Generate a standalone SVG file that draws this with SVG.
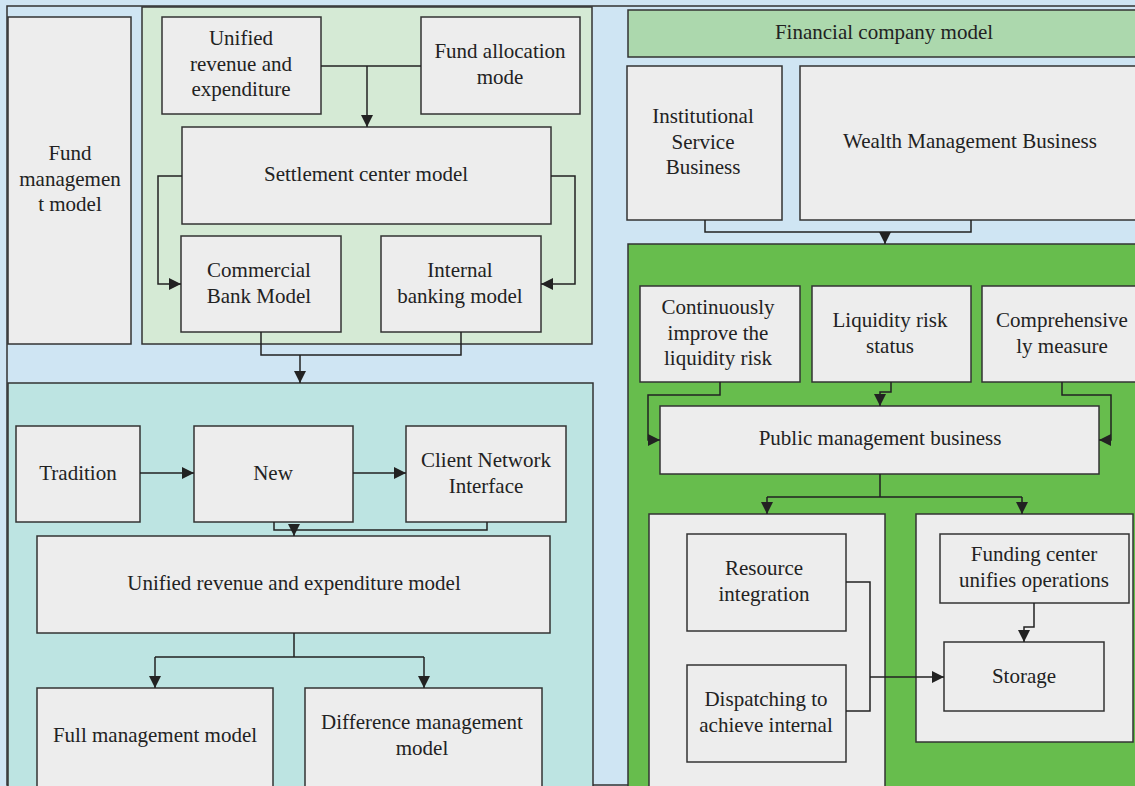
<svg xmlns="http://www.w3.org/2000/svg" width="1135" height="786" viewBox="0 0 1135 786">
<style>
.bx{fill:#ededed;stroke:#333;stroke-width:1.5}
.t{font-family:"Liberation Serif","Times New Roman",serif;font-size:21px;fill:#222;text-anchor:middle}
.c{fill:none;stroke:#222;stroke-width:1.5}
.a{marker-end:url(#ah)}
</style>
<defs>
<marker id="ah" markerUnits="userSpaceOnUse" markerWidth="14" markerHeight="12" refX="12" refY="6" orient="auto">
<path d="M0,0 L12,6 L0,12 Z" fill="#222"/>
</marker>
</defs>
<rect x="0" y="0" width="1135" height="786" fill="#cfe5f3"/>
<rect x="7" y="6" width="1140" height="779" fill="none" stroke="#333" stroke-width="1.5"/>

<g id="panel-settlement"><rect x="142" y="7" width="450" height="337" fill="#d5ead5" stroke="#333" stroke-width="1.5"/></g>
<g id="panel-unified"><rect x="8" y="383" width="585" height="405" fill="#bde4e2" stroke="#333" stroke-width="1.5"/></g>
<g id="panel-public"><rect x="628" y="244" width="510" height="544" fill="#67bd4d" stroke="#333" stroke-width="1.5"/></g>

<g id="fund-management-model"><rect class="bx" x="8" y="17" width="123" height="327"/>
<text class="t" x="70" y="160">Fund<tspan x="70" dy="25.5">managemen</tspan><tspan x="70" dy="25.5">t model</tspan></text></g>

<g id="unified-revenue"><rect class="bx" x="162" y="17" width="159" height="97"/>
<text class="t" x="241" y="45">Unified<tspan x="241" dy="25.5">revenue and</tspan><tspan x="241" dy="25.5">expenditure</tspan></text></g>

<g id="fund-allocation"><rect class="bx" x="421" y="17" width="159" height="97"/>
<text class="t" x="500" y="58">Fund allocation<tspan x="500" dy="25.5">mode</tspan></text></g>

<g id="settlement-center"><rect class="bx" x="182" y="127" width="369" height="97"/>
<text class="t" x="366" y="181">Settlement center model</text></g>

<g id="commercial-bank"><rect class="bx" x="181" y="236" width="160" height="96"/>
<text class="t" x="259" y="277">Commercial<tspan x="259" dy="25.5">Bank Model</tspan></text></g>

<g id="internal-banking"><rect class="bx" x="381" y="236" width="160" height="96"/>
<text class="t" x="460" y="277">Internal<tspan x="460" dy="25.5">banking model</tspan></text></g>

<g id="tradition"><rect class="bx" x="16" y="426" width="124" height="96"/>
<text class="t" x="78" y="480">Tradition</text></g>

<g id="new"><rect class="bx" x="194" y="426" width="159" height="96"/>
<text class="t" x="273" y="480">New</text></g>

<g id="client-network"><rect class="bx" x="406" y="426" width="160" height="96"/>
<text class="t" x="486" y="467">Client Network<tspan x="486" dy="25.5">Interface</tspan></text></g>

<g id="unified-model"><rect class="bx" x="37" y="536" width="513" height="97"/>
<text class="t" x="294" y="590">Unified revenue and expenditure model</text></g>

<g id="full-management"><rect class="bx" x="37" y="688" width="236" height="100"/>
<text class="t" x="155" y="742">Full management model</text></g>

<g id="difference-management"><rect class="bx" x="305" y="688" width="237" height="100"/>
<text class="t" x="422" y="729">Difference management<tspan x="422" dy="25.5">model</tspan></text></g>

<g id="financial-company"><rect x="628" y="10" width="510" height="47" fill="#acd8ad" stroke="#333" stroke-width="1.5"/>
<text class="t" x="884" y="39">Financial company model</text></g>

<g id="institutional"><rect class="bx" x="627" y="66" width="155" height="154"/>
<text class="t" x="703" y="123">Institutional<tspan x="703" dy="25.5">Service</tspan><tspan x="703" dy="25.5">Business</tspan></text></g>

<g id="wealth"><rect class="bx" x="800" y="66" width="340" height="154"/>
<text class="t" x="970" y="148">Wealth Management Business</text></g>

<g id="continuously"><rect class="bx" x="640" y="286" width="160" height="96"/>
<text class="t" x="718" y="314">Continuously<tspan x="718" dy="25.5">improve the</tspan><tspan x="718" dy="25.5">liquidity risk</tspan></text></g>

<g id="liquidity"><rect class="bx" x="812" y="286" width="159" height="96"/>
<text class="t" x="890" y="327">Liquidity risk<tspan x="890" dy="25.5">status</tspan></text></g>

<g id="comprehensive"><rect class="bx" x="982" y="286" width="158" height="96"/>
<text class="t" x="1062" y="327">Comprehensive<tspan x="1062" dy="25.5">ly measure</tspan></text></g>

<g id="public-management"><rect class="bx" x="660" y="406" width="439" height="68"/>
<text class="t" x="880" y="445">Public management business</text></g>

<g id="left-group"><rect class="bx" x="649" y="514" width="236" height="274"/></g>

<g id="resource"><rect class="bx" x="687" y="534" width="159" height="97"/>
<text class="t" x="764" y="575">Resource<tspan x="764" dy="25.5">integration</tspan></text></g>

<g id="dispatching"><rect class="bx" x="687" y="665" width="159" height="97"/>
<text class="t" x="766" y="706">Dispatching to<tspan x="766" dy="25.5">achieve internal</tspan></text></g>

<g id="right-group"><rect class="bx" x="916" y="514" width="217" height="228"/></g>

<g id="funding-center"><rect class="bx" x="940" y="534" width="189" height="69"/>
<text class="t" x="1034" y="561">Funding center<tspan x="1034" dy="25.5">unifies operations</tspan></text></g>

<g id="storage"><rect class="bx" x="944" y="642" width="160" height="69"/>
<text class="t" x="1024" y="683">Storage</text></g>

<g id="connectors">
<path class="c" d="M321,66 H421"/>
<path class="c a" d="M367,66 V127"/>
<path class="c a" d="M182,176 H158 V284 H181"/>
<path class="c a" d="M551,176 H575 V284 H541"/>
<path class="c" d="M261,332 V355 H461 V332"/>
<path class="c a" d="M300,355 V383"/>
<path class="c a" d="M140,473 H194"/>
<path class="c a" d="M353,473 H406"/>
<path class="c" d="M274,522 V530 H487 V522"/>
<path class="c a" d="M294,530 V536"/>
<path class="c" d="M294,633 V657 H424 M294,657 H155"/>
<path class="c a" d="M155,657 V688"/>
<path class="c a" d="M424,657 V688"/>
<path class="c" d="M705,220 V232 H971 V220"/>
<path class="c a" d="M885,232 V244"/>
<path class="c a" d="M720,382 V395 H648 V440 H660"/>
<path class="c a" d="M891,382 V392 H880 V406"/>
<path class="c a" d="M1062,382 V395 H1111 V440 H1099"/>
<path class="c" d="M880,474 V497 H1022 M880,497 H767"/>
<path class="c a" d="M767,497 V514"/>
<path class="c a" d="M1022,497 V514"/>
<path class="c" d="M846,582 H870 V711 H846"/>
<path class="c a" d="M870,677 H944"/>
<path class="c a" d="M1034,603 V627 H1024 V642"/>
</g>
</svg>
